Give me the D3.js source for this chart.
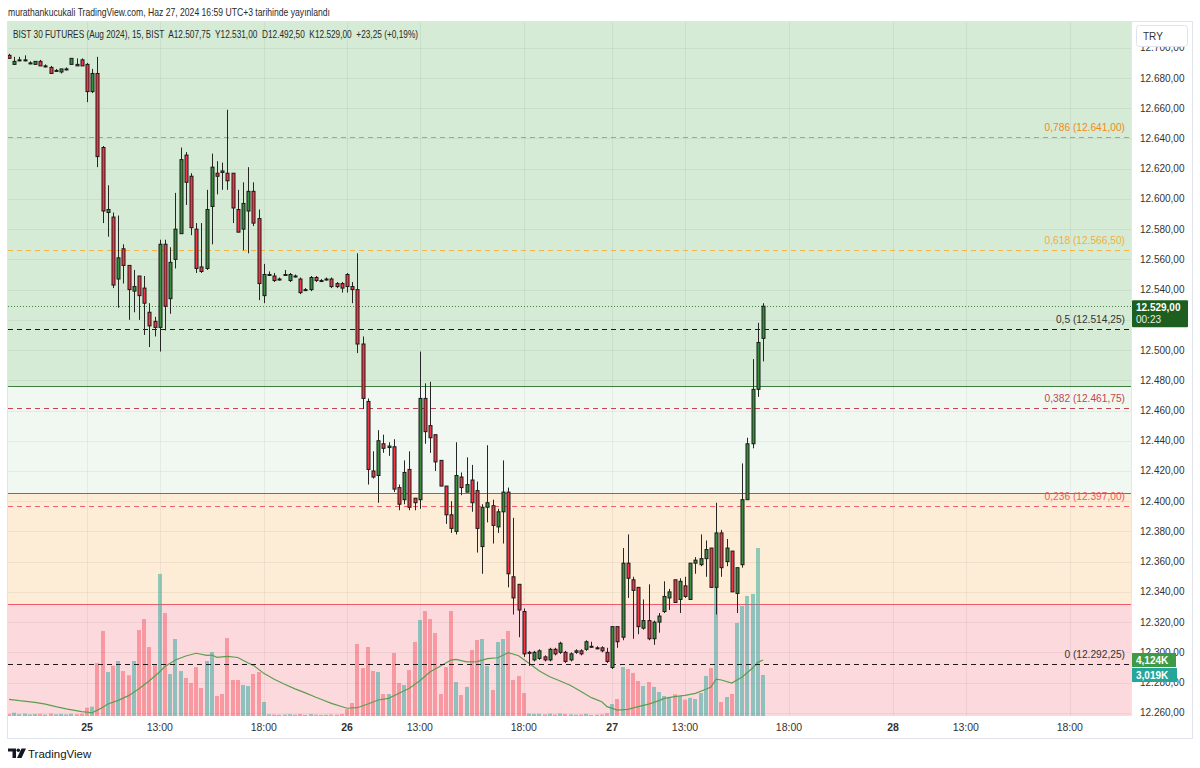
<!DOCTYPE html>
<html><head><meta charset="utf-8">
<script src="https://cdn.jsdelivr.net/npm/d3@7"></script>
<style>
body{margin:0;background:#fff;}
svg{display:block;font-family:"Liberation Sans",Arial,sans-serif;}
</style>
</head><body>
<svg id="chart" width="1200" height="768"></svg>
<script>
// ---------------- DATA ----------------
const firstBar = -15;
const opens = [
12695,12689,12692,12692,12690,12689,12691,12688,12687,12685,12684,12686,12689,12689,12692,
12689,12671,12683,12634,12591,12588,12547,12567,12556,12539,12549,12541,12525,12519,12515,
12570,12534,12560,12577,12629,12615,12580,12555,12554,12595,12617,12618.5,12617,12617,12593,
12580,12592,12605,12587,12536,12550,12549,12547,12550,12546,12549,12547,12540,12540,12548,
12546,12547,12547,12544,12544,12550,12542,12540,12504,12466,12420,12417,12438,12435.5,12436,
12409,12401,12421,12402,12401,12468,12450,12444,12427,12410,12391,12380,12416,12406,12414,
12407,12370,12396,12397,12383,12393,12406,12350,12345,12327,12300,12295,12296,12297,12295,
12302,12300,12300,12295,12300,12301,12302,12304,12303,12303,12300,12290,12317,12310,12359,
12348,12343,12316,12321,12309,12320,12327,12336,12348,12335,12344,12335,12359,12358,12362,
12369,12343,12379,12360,12367,12339,12358,12401,12438,12474,12507.75];
const highs = [
12696,12694,12694,12695,12691,12691,12692,12689,12688,12686,12686,12687,12693,12693,12693,
12690,12686,12694,12635,12609,12591,12589,12570,12556,12553,12549,12549,12531,12522,12573,
12573,12568,12604,12634,12631,12617,12584,12584,12606,12630,12625,12624,12659,12617,12606,
12611,12621,12611,12593,12557,12552,12551,12548,12553,12551,12550,12548,12541,12549,12549,
12547,12548,12548,12545,12545,12551,12545,12564,12509,12468,12433,12447,12444,12439,12441,
12411,12427,12433,12402,12499,12478,12479,12444,12427,12410,12400,12439,12419,12429,12424,
12413,12398,12437,12401,12395,12427,12409,12389,12345,12329,12301,12301,12302,12298,12303,
12303,12307,12301,12300,12302,12302,12308,12307,12304,12304,12303,12317,12317,12369,12378,
12350,12343,12335,12345,12321,12326,12347,12342,12348,12349,12350,12359,12363,12378,12374,
12369,12399,12381,12375,12367,12356,12425,12442,12494,12518,12531];
const lows = [
12693,12689,12691,12691,12689,12689,12688,12687,12683,12684,12683,12685,12689,12688,12688,
12664,12670,12621,12584,12575,12541,12528,12544,12520,12525,12520,12510,12502,12509,12499,
12513,12524,12554,12577,12596,12576,12551,12551,12553,12570,12603,12606,12606,12584,12578,
12566,12564,12582,12533,12531,12549,12545,12546,12549,12545,12548,12537,12539,12539,12545,
12545,12546,12541,12541,12538,12538,12531,12498,12461,12411,12415,12399,12432,12430,12406,
12394,12398,12394,12394,12395,12438,12432,12420,12410,12385,12379,12378,12404,12406,12393,
12366,12352,12386,12372,12379,12372,12343,12325,12310,12297,12291,12294,12295,12294,12294,
12298,12299,12293,12294,12299,12298,12301,12303,12302,12300,12293,12289,12303,12308,12336,
12309,12312,12315,12308,12305,12313,12326,12328,12333,12326,12336,12335,12352,12357,12350,
12343,12325,12350,12357,12340,12326,12356,12401,12435,12469,12492.5];
const closes = [
12693,12691,12692,12692,12690,12691,12688,12688,12683,12685,12686,12686,12693,12688,12688,
12671,12683,12628,12592,12593,12543,12561,12556,12540,12542,12536,12531,12516,12515,12570,
12529,12558,12580,12626,12611,12581,12554,12552,12593,12621,12615,12617.5,12612,12594,12578,
12597,12605,12584,12544,12550,12550,12546,12547,12550,12550,12549,12538,12540,12548,12546,
12546,12547,12542,12542,12541,12542,12540,12504,12468,12421,12416,12440,12435,12436.5,12408,
12398,12419,12396,12399,12468,12446,12442,12426,12410,12391,12382,12417,12409,12411,12399,
12382,12396,12399,12384,12393,12406,12352,12336,12328,12299,12300,12300,12301,12295,12302,
12299,12306,12294,12299,12301,12299,12307,12304,12303,12301,12294,12317,12307,12359,12349,
12341,12317,12321,12309,12320,12324,12337,12340,12333,12347,12337,12359,12361,12362,12368,
12343,12379,12356,12369,12340,12356,12401,12438,12474,12505,12529];
const volumes = [
150,240,130,170,110,140,160,100,180,120,150,110,160,130,170,
610,690,3900,6260,3240,3700,4050,3310,3000,4050,6330,7140,5080,3750,10460,
7580,3090,5670,3310,2800,2430,3600,2060,4050,4710,1470,1620,5740,2650,2650,
2280,2200,3090,3240,1030,120,110,90,100,130,90,150,80,140,100,
80,90,110,100,150,500,960,5300,3530,5080,3310,3240,1620,1620,4640,
2430,2280,3390,5450,7070,7730,7140,6110,1620,3600,7730,2500,1550,2140,4860,
5600,5670,3680,1910,5450,5670,6260,2650,2950,1690,170,150,160,120,170,
110,180,150,120,90,110,160,80,90,120,200,880,1250,3600,3460,
3170,2580,2210,2500,2140,1770,1470,1400,1600,1450,1200,1330,1250,1690,2950,
3530,9430,1030,1400,1620,6850,8100,8840,8990,12370,3019];
const maBars = [-15,-13,-10,-8,-6,-4,-1,1,2,3,4,6,8,10,12,14,15,17,19,21,23,24,25,27,29,31,32,34,36,38,40,42,44,45,47,50,52,54,56,58,60,62,64,66,68,70,71,73,75,77,79,81,83,85,87,89,91,93,95,97,99,100,102,104,106,108,110,111,113,115,117,119,120,121,122,124,126,128,129,130];
const maValues = [1230,1130,1010,880,690,520,320,240,430,620,880,1150,1500,2000,2600,3260,3650,4120,4420,4620,4470,4490,4320,4390,4310,3900,3730,3140,2700,2340,2000,1700,1380,1230,930,570,610,880,1180,1300,1670,2040,2600,3260,3680,4120,4170,3980,4000,4220,4290,4660,4440,3880,3310,2890,2580,2250,1800,1350,1050,690,440,490,690,880,1130,1300,1420,1520,1670,1970,2140,2720,2650,2430,2870,3530,3950,4124];
const priceTicks = [12260,12280,12300,12320,12340,12360,12380,12400,12420,12440,12460,12480,12500,12520,12540,12560,12580,12600,12620,12640,12660,12680,12700];
const hiddenPriceTicks = [12520];
const timeTickBars = [0,14,34,50,64,84,101,115,135,155,169,189];
const timeTickLabels = ["25","13:00","18:00","26","13:00","18:00","27","13:00","18:00","28","13:00","18:00"];
const timeTickIsDay = [true,false,false,true,false,false,true,false,false,true,false,false];
const fibRatios = ["0,786","0,618","0,5","0,382","0,236","0"];
const fibPrices = [12641,12566.5,12514.25,12461.75,12397,12292.25];
const fibColors = ["#f39422","#f5b547","#1c1c1c","#c8424f","#f0606c","#1c1c1c"];
const fibTextColors = ["#f3891a","#f4ad3a","#333333","#c8424f","#ee5a66","#333333"];
const zonePrices = [12476.25,12405.25,12332];
const zoneFills = ["#d5ebd5","#f1f8f1","#fdecd6","#fcd9dc"];
const zoneLineColors = ["#3e7d40","#4d8a4f","#f05b6c"];
const lastPrice = 12529;
const lastPriceText = "12.529,00";
const countdownText = "00:23";
const volMaText = "4,124K";
const lastVolText = "3,019K";
const lastVolValue = 3019;
const lastMaValue = 4124;
const headerText = "murathankucukali TradingView.com, Haz 27, 2024 16:59 UTC+3 tarihinde yayınlandı";
const legendText = "BIST 30 FUTURES (Aug 2024), 15, BIST  A12.507,75  Y12.531,00  D12.492,50  K12.529,00  +23,25 (+0,19%)";

// ---------------- LAYOUT ----------------
const W = 1200, H = 768;
const L = 8, R = 1131, T = 22, B = 716;
const svg = d3.select("#chart");

const x = d3.scaleLinear().domain([0, 130]).range([87, 763]);
const y = d3.scaleLinear().domain([12260, 12680]).range([712.8, 78]);
const vy = d3.scaleLinear().domain([0, 10000]).range([B, B - 135.8]);

const bars = opens.map((o, k) => ({
  i: firstBar + k, o, h: highs[k], l: lows[k], c: closes[k], v: volumes[k]
}));

svg.append("rect").attr("width", W).attr("height", H).attr("fill", "#fff");

svg.append("defs").append("clipPath").attr("id", "plotClip")
  .append("rect").attr("x", L).attr("y", T).attr("width", R - L).attr("height", B - T);

const plot = svg.append("g").attr("clip-path", "url(#plotClip)");

// zone backgrounds
const zoneEdges = [T, ...zonePrices.map(p => y(p)), B];
plot.selectAll("rect.zone").data(zoneFills).join("rect")
  .attr("class", "zone")
  .attr("x", L).attr("width", R - L)
  .attr("y", (d, k) => zoneEdges[k])
  .attr("height", (d, k) => zoneEdges[k + 1] - zoneEdges[k])
  .attr("fill", d => d);

// grid
plot.selectAll("line.hg").data(priceTicks).join("line")
  .attr("x1", L).attr("x2", R)
  .attr("y1", d => Math.round(y(d)) + 0.5).attr("y2", d => Math.round(y(d)) + 0.5)
  .attr("stroke", "rgba(0,0,0,0.05)");
plot.selectAll("line.vg").data(timeTickBars).join("line")
  .attr("y1", T).attr("y2", B)
  .attr("x1", d => Math.round(x(d)) + 0.5).attr("x2", d => Math.round(x(d)) + 0.5)
  .attr("stroke", "rgba(0,0,0,0.05)");

// zone lines
plot.selectAll("line.zl").data(zonePrices).join("line")
  .attr("x1", L).attr("x2", R)
  .attr("y1", d => Math.round(y(d)) + 0.5).attr("y2", d => Math.round(y(d)) + 0.5)
  .attr("stroke", (d, k) => zoneLineColors[k]).attr("stroke-width", 1.2);

// volume bars
plot.selectAll("rect.vol").data(bars).join("rect")
  .attr("x", d => Math.round(x(d.i)) - 2)
  .attr("width", 4)
  .attr("y", d => vy(d.v))
  .attr("height", d => B - vy(d.v))
  .attr("fill", d => d.c >= d.o ? "rgba(38,166,154,0.5)" : "rgba(242,54,69,0.4)");

// volume MA
const maPts = maBars.map((b, k) => [x(b), vy(maValues[k])]);
plot.append("path").attr("d", d3.line()(maPts))
  .attr("fill", "none").attr("stroke", "#5b9f4e").attr("stroke-width", 1.2);

// fib lines
plot.selectAll("line.fib").data(fibPrices).join("line")
  .attr("x1", L).attr("x2", R)
  .attr("y1", d => Math.round(y(d)) + 0.5).attr("y2", d => Math.round(y(d)) + 0.5)
  .attr("stroke", (d, k) => fibColors[k]).attr("stroke-width", 1)
  .attr("stroke-dasharray", "5,4");

// last price dotted
plot.append("line")
  .attr("x1", L).attr("x2", R)
  .attr("y1", Math.round(y(lastPrice)) + 0.5).attr("y2", Math.round(y(lastPrice)) + 0.5)
  .attr("stroke", "#3f7f3f").attr("stroke-width", 1).attr("stroke-dasharray", "1,2");

const fmt = p => d3.format(",.2f")(p).replace(/,/g, "#").replace(".", ",").replace(/#/g, ".");

// fib labels
plot.selectAll("text.fibl").data(fibPrices).join("text")
  .attr("x", 1125).attr("y", d => y(d) - 6)
  .attr("text-anchor", "end").attr("font-size", 10.2)
  .attr("fill", (d, k) => fibTextColors[k])
  .text((d, k) => fibRatios[k] + " (" + fmt(d) + ")");

// candles
const cg = plot.append("g");
cg.selectAll("line.wick").data(bars).join("line")
  .attr("x1", d => Math.round(x(d.i)) + 0.5).attr("x2", d => Math.round(x(d.i)) + 0.5)
  .attr("y1", d => y(d.h)).attr("y2", d => y(d.l))
  .attr("stroke", "#262626").attr("stroke-width", 1);
cg.selectAll("rect.body").data(bars).join("rect")
  .attr("x", d => Math.round(x(d.i)) - 1)
  .attr("width", 3)
  .attr("y", d => y(Math.max(d.o, d.c)))
  .attr("height", d => Math.max(1, Math.abs(y(d.o) - y(d.c))))
  .attr("fill", d => d.c >= d.o ? "#388e3c" : "#f23645")
  .attr("stroke", "#1a1a1a").attr("stroke-width", 1);

// legend & header
svg.append("text").attr("x", 8).attr("y", 16).attr("font-size", 11).attr("fill", "#2a2a2a")
  .attr("textLength", 322).attr("lengthAdjust", "spacingAndGlyphs").text(headerText);
svg.append("text").attr("x", 13).attr("y", 37.5).attr("font-size", 11).attr("fill", "#2a2a2a")
  .attr("textLength", 405).attr("lengthAdjust", "spacingAndGlyphs")
  .attr("xml:space", "preserve").style("white-space", "pre").text(legendText);

// right axis
svg.append("line").attr("x1", R + 0.5).attr("x2", R + 0.5).attr("y1", T).attr("y2", B)
  .attr("stroke", "#e3e6ec");
svg.selectAll("text.pt").data(priceTicks.filter(p => !hiddenPriceTicks.includes(p))).join("text")
  .attr("x", 1140).attr("y", d => y(d) + 3.5)
  .attr("font-size", 10).attr("fill", "#333").text(d => fmt(d));

// TRY box
svg.append("rect").attr("x", 1136.5).attr("y", 25.5).attr("width", 51).attr("height", 21).attr("rx", 3)
  .attr("fill", "#fff").attr("stroke", "#e0e3eb");
svg.append("text").attr("x", 1143).attr("y", 39.5).attr("font-size", 10).attr("fill", "#333").text("TRY");

// last price label
const lpY = y(lastPrice);
svg.append("rect").attr("x", 1132).attr("y", lpY - 6).attr("width", 56).attr("height", 27).attr("rx", 1)
  .attr("fill", "#1e5f20");
svg.append("text").attr("x", 1136).attr("y", lpY + 4.5).attr("font-size", 10).attr("font-weight", "bold")
  .attr("fill", "#fff").text(lastPriceText);
svg.append("text").attr("x", 1136).attr("y", lpY + 16.5).attr("font-size", 10)
  .attr("fill", "#e8f0e8").text(countdownText);

// volume labels
svg.append("rect").attr("x", 1132).attr("y", vy(lastMaValue) - 7).attr("width", 44).attr("height", 14)
  .attr("fill", "#3f9a45");
svg.append("text").attr("x", 1136).attr("y", vy(lastMaValue) + 4).attr("font-size", 10).attr("font-weight", "bold")
  .attr("fill", "#fff").text(volMaText);
svg.append("rect").attr("x", 1132).attr("y", vy(lastVolValue) - 7).attr("width", 45).attr("height", 14)
  .attr("fill", "#26a69a");
svg.append("text").attr("x", 1136).attr("y", vy(lastVolValue) + 4).attr("font-size", 10).attr("font-weight", "bold")
  .attr("fill", "#fff").text(lastVolText);

// bottom axis
svg.selectAll("text.tt").data(timeTickBars).join("text")
  .attr("x", d => x(d)).attr("y", 731)
  .attr("text-anchor", "middle").attr("font-size", 10.5)
  .attr("font-weight", (d, k) => timeTickIsDay[k] ? "bold" : "normal")
  .attr("fill", "#333").text((d, k) => timeTickLabels[k]);

// outer border
svg.append("rect").attr("x", 7.5).attr("y", 21.5).attr("width", 1185).attr("height", 717)
  .attr("fill", "none").attr("stroke", "#e0e3eb");

// TradingView logo
const lg = svg.append("g").attr("fill", "#131722");
lg.append("path").attr("d", "M8,748.5 H16 V758 H12.5 V751.5 H8 Z");
lg.append("circle").attr("cx", 18.3).attr("cy", 750.3).attr("r", 1.8);
lg.append("path").attr("d", "M21.5,748.5 H26 L21.5,758 H17 Z");
svg.append("text").attr("x", 28).attr("y", 757.5).attr("font-size", 11.5).attr("fill", "#131722").text("TradingView");
</script>
</body></html>
